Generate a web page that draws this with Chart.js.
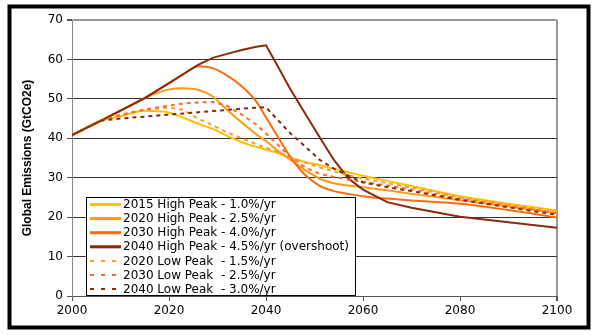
<!DOCTYPE html>
<html>
<head>
<meta charset="utf-8">
<script src="https://cdn.jsdelivr.net/npm/chart.js@4/dist/chart.umd.min.js"></script>
<style>
  html, body { margin: 0; padding: 0; background: #fff; }
  #wrap { width: 599px; height: 335px; position: relative; }
</style>
</head>
<body>
<div id="wrap"><canvas id="grafico"></canvas></div>
<script>
// dados (GtCO2e por ano)
const anos = [2000, 2006, 2010, 2015, 2020, 2023, 2026, 2029, 2032, 2035, 2038, 2040,
              2042, 2045, 2048, 2051, 2054, 2057, 2060, 2065, 2070, 2080, 2090, 2100];

const alto2015 = [40.8, 44.5, 45.6, 47.0, 46.5, 45.2, 43.7, 42.4, 40.6, 39.0, 37.8, 37.1,
                  36.4, 35.1, 34.0, 33.2, 32.3, 31.4, 30.5, 29.2, 27.9, 25.3, 23.4, 21.7];
const alto2020 = [40.8, 44.5, 47.0, 50.2, 52.4, 52.7, 52.3, 50.6, 47.2, 44.0, 41.0, 39.3,
                  37.3, 34.6, 32.0, 29.8, 28.6, 28.0, 27.6, 26.8, 25.9, 24.3, 22.7, 21.0];
const alto2030 = [40.8, 44.5, 47.0, 50.2, 54.0, 56.3, 58.3, 57.8, 55.9, 53.2, 49.3, 45.3,
                  41.3, 35.3, 30.8, 28.0, 26.6, 25.9, 25.3, 24.7, 24.2, 23.4, 21.8, 19.9];
const alto2040 = [40.8, 44.5, 47.0, 50.2, 54.0, 56.3, 58.6, 60.4, 61.4, 62.4, 63.2, 63.6,
                  59.2, 52.5, 46.4, 40.4, 34.5, 29.8, 27.0, 23.8, 22.4, 20.1, 18.7, 17.3];
const baixo2020 = [40.8, 44.5, 45.8, 47.2, 47.8, 47.2, 45.0, 43.3, 41.5, 40.0, 38.5, 37.6,
                   36.7, 35.2, 33.9, 32.6, 31.6, 30.6, 29.8, 28.6, 27.5, 25.0, 23.2, 21.4];
const baixo2030 = [40.8, 44.5, 46.0, 47.3, 48.3, 48.8, 49.1, 49.2, 48.2, 46.0, 43.5, 41.2,
                   38.9, 35.3, 32.7, 31.0, 30.2, 29.5, 29.0, 28.0, 27.0, 24.7, 22.9, 21.0];
const baixo2040 = [40.8, 44.5, 45.0, 45.5, 46.0, 46.3, 46.6, 46.9, 47.2, 47.5, 47.75, 47.9,
                   45.2, 41.3, 38.0, 34.6, 32.3, 30.5, 28.8, 27.6, 26.6, 24.4, 22.5, 20.6];

const rotulos = [
  "2015 High Peak - 1.0%/yr",
  "2020 High Peak - 2.5%/yr",
  "2030 High Peak - 4.0%/yr",
  "2040 High Peak - 4.5%/yr (overshoot)",
  "2020 Low Peak  - 1.5%/yr",
  "2030 Low Peak  - 2.5%/yr",
  "2040 Low Peak  - 3.0%/yr"
];
const series = [alto2015, alto2020, alto2030, alto2040, baixo2020, baixo2030, baixo2040];
const cores = ["#ffc000", "#ff9a10", "#ff6a10", "#8b2a0a", "#ff9a30", "#ff6a30", "#8b2a0a"];
const tracejado = [false, false, false, false, true, true, true];
const suave = [true, true, true, false, false, false, false];

const FONTE = "'DejaVu Sans', Arial, sans-serif";

// moldura preta em volta da figura
const moldura = {
  id: "moldura",
  beforeDraw(chart) {
    const c = chart.ctx;
    c.save();
    c.fillStyle = "#fff";
    c.fillRect(0, 0, chart.width, chart.height);
    c.strokeStyle = "#000";
    c.lineWidth = 4;
    c.strokeRect(9.5, 6.5, 579, 321);
    c.restore();
  }
};

// legenda dentro da área do gráfico
const legendaInterna = {
  id: "legendaInterna",
  afterDraw(chart) {
    const c = chart.ctx;
    const x0 = 86, y0 = 197, w = 269, h = 98, passo = 14.1;
    c.save();
    c.fillStyle = "#fff";
    c.fillRect(x0, y0, w, h);
    c.strokeStyle = "#000";
    c.lineWidth = 1;
    c.strokeRect(x0 + 0.5, y0 + 0.5, w, h);
    chart.data.datasets.forEach((ds, i) => {
      const y = y0 + 7.5 + i * passo;
      c.beginPath();
      c.strokeStyle = ds.borderColor;
      c.lineWidth = tracejado[i] ? 2 : 3;
      c.setLineDash(tracejado[i] ? [4, 7] : []);
      c.moveTo(90, y);
      c.lineTo(121, y);
      c.stroke();
      c.setLineDash([]);
      c.fillStyle = "#000";
      c.font = "12px " + FONTE;
      c.textBaseline = "middle";
      c.fillText(ds.label, 123, y + 0.5);
    });
    c.restore();
  }
};

const ctx = document.getElementById("grafico");
new Chart(ctx, {
  type: "line",
  data: {
    labels: anos,
    datasets: series.map((s, i) => ({
      label: rotulos[i],
      data: s.map((v, k) => ({ x: anos[k], y: v })),
      borderColor: cores[i],
      borderWidth: 2,
      borderDash: tracejado[i] ? [4, 4] : [],
      pointRadius: 0,
      fill: false,
      tension: 0,
      cubicInterpolationMode: suave[i] ? "monotone" : "default",
      order: 7 - i
    }))
  },
  options: {
    responsive: true,
    maintainAspectRatio: false,
    animation: false,
    layout: { padding: { left: 12, top: 20, right: 42, bottom: 10 } },
    plugins: { legend: { display: false }, tooltip: { enabled: false } },
    scales: {
      x: {
        type: "linear",
        min: 2000, max: 2100,
        afterFit: s => { s.height = 29; },
        ticks: { stepSize: 20, color: "#000", font: { family: FONTE, size: 12 }, padding: 3,
                 callback: v => String(v) },
        grid: {
          drawOnChartArea: true,
          color: c => c.tick && c.tick.value === 2100 ? "#999" : "rgba(0,0,0,0)",
          lineWidth: c => c.tick && c.tick.value === 2100 ? 2 : 1,
          tickColor: "#555",
          tickLength: 5
        },
        border: { color: "#555", width: 1 }
      },
      y: {
        min: 0, max: 70,
        afterFit: s => { s.width = 60; },
        ticks: { stepSize: 10, color: "#000", font: { family: FONTE, size: 12 }, padding: 4 },
        grid: {
          color: c => c.tick && c.tick.value === 70 ? "#999" : "#333",
          lineWidth: c => c.tick && c.tick.value === 70 ? 2 : 1,
          tickColor: "#555",
          tickLength: 5
        },
        border: { color: "#888", width: 1 },
        title: {
          display: true,
          text: "Global Emissions (GtCO2e)",
          color: "#000",
          font: { family: "Arial, 'Liberation Sans', sans-serif", size: 12, weight: "bold" },
          padding: { top: 8, bottom: 0 }
        }
      }
    }
  },
  plugins: [moldura, legendaInterna]
});
</script>
</body>
</html>
